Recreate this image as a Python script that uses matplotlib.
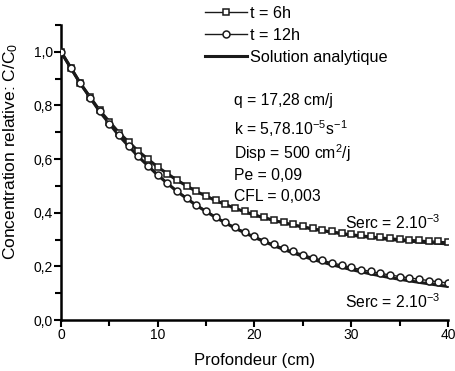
import numpy as np
import matplotlib
matplotlib.use("Agg")
import matplotlib.pyplot as plt
from matplotlib.ticker import MultipleLocator, FuncFormatter

plt.rcParams['font.family'] = ['Liberation Sans', 'DejaVu Sans']
plt.rcParams['mathtext.fontset'] = 'custom'
plt.rcParams['mathtext.rm'] = 'Liberation Sans'
plt.rcParams['mathtext.it'] = 'Liberation Sans'

# profondeur (cm), one point per cm
depth = list(range(0, 41))

# t = 6h (squares)
c_6h = [1.000, 0.938, 0.882, 0.830, 0.782, 0.739, 0.699, 0.663, 0.630, 0.599,
        0.571, 0.546, 0.522, 0.501, 0.481, 0.464, 0.447, 0.432, 0.418, 0.406,
        0.394, 0.384, 0.374, 0.365, 0.357, 0.350, 0.343, 0.337, 0.331, 0.326,
        0.321, 0.317, 0.313, 0.309, 0.306, 0.303, 0.300, 0.298, 0.295, 0.293,
        0.291]

# t = 12h (circles)
c_12h = [1.000, 0.939, 0.882, 0.828, 0.778, 0.732, 0.688, 0.648, 0.610, 0.575,
         0.542, 0.511, 0.482, 0.455, 0.430, 0.407, 0.385, 0.365, 0.346, 0.328,
         0.312, 0.296, 0.282, 0.268, 0.256, 0.244, 0.233, 0.223, 0.213, 0.205,
         0.196, 0.188, 0.181, 0.174, 0.168, 0.162, 0.157, 0.152, 0.147, 0.142,
         0.138]

# analytic solutions
depth_an = [0, 2, 4, 6, 8, 10, 12, 14, 16, 18, 20, 22, 24, 26, 28, 30, 32, 34, 36, 38, 40]
an_6h = [1.000, 0.882, 0.781, 0.698, 0.629, 0.570, 0.521, 0.479, 0.445, 0.416,
         0.391, 0.371, 0.354, 0.339, 0.327, 0.316, 0.308, 0.300, 0.294, 0.288, 0.284]
an_12h = [1.000, 0.882, 0.777, 0.687, 0.609, 0.540, 0.479, 0.427, 0.382, 0.342,
          0.308, 0.277, 0.250, 0.226, 0.206, 0.188, 0.172, 0.158, 0.146, 0.135, 0.125]

fig = plt.figure(figsize=(4.56, 3.71), dpi=100)
ax = fig.add_axes([61/456, 1-320/371, 387/456, 295/371])

ax.plot(depth_an, an_6h, '-', color='#1a1a1a', lw=2.2, zorder=2)
ax.plot(depth_an, an_12h, '-', color='#1a1a1a', lw=2.2, zorder=2,
        label='Solution analytique')
ax.plot(depth, c_6h, '-s', color='#1a1a1a', lw=1.0, ms=5, mfc='white',
        mec='#1a1a1a', mew=1.1, zorder=3, label='t = 6h')
ax.plot(depth, c_12h, '-o', color='#1a1a1a', lw=1.0, ms=5, mfc='white',
        mec='#1a1a1a', mew=1.1, zorder=3, label='t = 12h')

ax.set_xlim(0, 40)
ax.set_ylim(0, 1.1)
ax.set_yticks([0, 0.2, 0.4, 0.6, 0.8, 1.0])
ax.set_xticks([0, 10, 20, 30, 40])
ax.xaxis.set_minor_locator(MultipleLocator(5))
ax.yaxis.set_minor_locator(MultipleLocator(0.1))
ax.yaxis.set_major_formatter(FuncFormatter(lambda v, p: ('%.1f' % v).replace('.', ',')))
ax.tick_params(which='major', length=5, width=1.5, labelsize=10, pad=1)
ax.tick_params(which='minor', length=4, width=1.5)
for s in ['top', 'right']:
    ax.spines[s].set_visible(False)
for s in ['left', 'bottom']:
    ax.spines[s].set_linewidth(1.8)

ax.set_xlabel('Profondeur (cm)', fontsize=12, labelpad=8)
ax.set_ylabel('Concentration relative: C/C$_0$', fontsize=12.5)
ax.yaxis.set_label_coords(-0.106, 0.57)

h, l = ax.get_legend_handles_labels()
order = [1, 2, 0]
fig.legend([h[i] for i in order], [l[i] for i in order],
           loc='upper left', bbox_to_anchor=(203/456, 0.988), frameon=False,
           fontsize=11.7, handlelength=2.6, handletextpad=0.2, labelspacing=0.42,
           borderpad=0.1, borderaxespad=0)

fs = 11.3
ax.text(17.9, 0.818, 'q = 17,28 cm/j', fontsize=fs, va='center')
ax.text(17.9, 0.715, 'k = 5,78.10$^{-5}$s$^{-1}$', fontsize=fs, va='center')
ax.text(17.9, 0.622, 'Disp = 500 cm$^2$/j', fontsize=fs, va='center')
ax.text(17.9, 0.540, 'Pe = 0,09', fontsize=fs, va='center')
ax.text(17.9, 0.462, 'CFL = 0,003', fontsize=fs, va='center')
ax.text(39.2, 0.363, 'Serc = 2.10$^{-3}$', fontsize=fs, va='center', ha='right')
ax.text(39.2, 0.067, 'Serc = 2.10$^{-3}$', fontsize=fs, va='center', ha='right')

fig.savefig('out.png', dpi=100)
